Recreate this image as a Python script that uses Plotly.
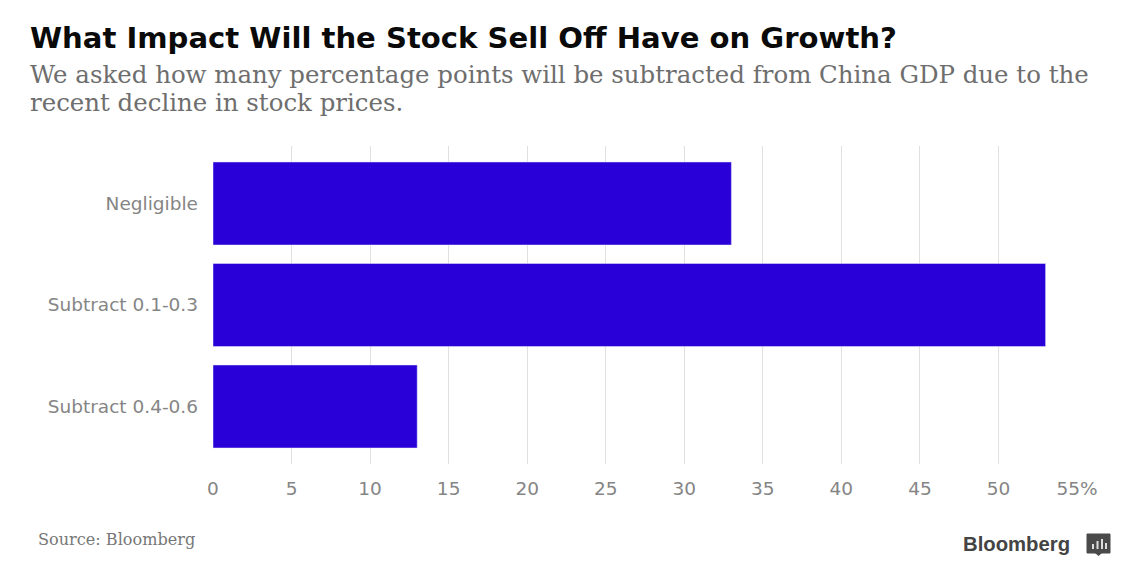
import plotly.graph_objects as go

categories = ["Negligible", "Subtract 0.1-0.3", "Subtract 0.4-0.6"]
values = [33, 53, 13]
tick_vals = [0, 5, 10, 15, 20, 25, 30, 35, 40, 45, 50, 55]
tick_text = ["0", "5", "10", "15", "20", "25", "30", "35", "40", "45", "50", "55%"]

OFF = 8  # page body margin
W, H = 1141 - 2 * OFF, 587 - 2 * OFF
L, R, T, B = 213 - OFF, 1077 - OFF, 146 - OFF, 464 - OFF


def px(x):
    return (x - OFF - L) / (R - L)


def py(y):
    return (B - (y - OFF)) / (B - T)


fig = go.Figure(go.Bar(x=values, y=categories, orientation="h", marker_color="#2a00d8", width=0.818))
fig.update_layout(
    width=W, height=H, margin=dict(l=L, r=W - R, t=T, b=H - B),
    paper_bgcolor="white", plot_bgcolor="white", showlegend=False,
    font=dict(family="DejaVu Sans", color="#858585", size=16),
)
fig.update_xaxes(range=[0, 55], tickvals=tick_vals, ticktext=tick_text, showgrid=True, gridcolor="#e0e0e0",
                 gridwidth=1, zeroline=False, ticks="", ticklabelstandoff=11,
                 tickfont=dict(size=18.5, color="#858585"))
fig.update_yaxes(range=[2.5665, -0.5665], ticks="", showgrid=False, zeroline=False,
                 ticklabelstandoff=14, tickfont=dict(size=18.5, color="#858585"))


def label(x, y, text, family, size, color, anchor="left"):
    fig.add_annotation(xref="paper", yref="paper", x=px(x), y=py(y), xanchor=anchor, yanchor="middle",
                       showarrow=False, text=text, borderpad=0, font=dict(family=family, size=size, color=color))


label(29, 38, "<b>What Impact Will the Stock Sell Off Have on Growth?</b>", "DejaVu Sans", 29.1, "#0a0a0a")
label(29, 75, "We asked how many percentage points will be subtracted from China GDP due to the",
      "DejaVu Serif", 24.45, "#6e6e6e")
label(29, 103, "recent decline in stock prices.", "DejaVu Serif", 24.45, "#6e6e6e")
label(37, 539, "Source: Bloomberg", "DejaVu Serif", 16.1, "#777777")
label(1071, 544, "<b>Bloomberg</b>", "Liberation Sans", 20.3, "#444444", anchor="right")

# Bloomberg logo mark
x0, x1, y0, y1 = px(1087), px(1110), py(553), py(534)
fig.add_shape(type="rect", xref="paper", yref="paper", x0=x0, x1=x1, y0=y0, y1=y1,
              fillcolor="#4a4a4a", line=dict(color="#4a4a4a", width=1))
fig.add_shape(type="path", xref="paper", yref="paper",
              path=f"M {px(1095)} {py(553)} L {px(1102)} {py(553)} L {px(1098.5)} {py(556)} Z",
              fillcolor="#4a4a4a", line=dict(width=0))
for bx, top in [(1092, 544), (1096.5, 541), (1101, 539), (1105, 543)]:
    fig.add_shape(type="rect", xref="paper", yref="paper", x0=px(bx), x1=px(bx + 2), y0=py(549), y1=py(top),
                  fillcolor="#dddddd", line=dict(width=0))

fig.write_html("out.html")
